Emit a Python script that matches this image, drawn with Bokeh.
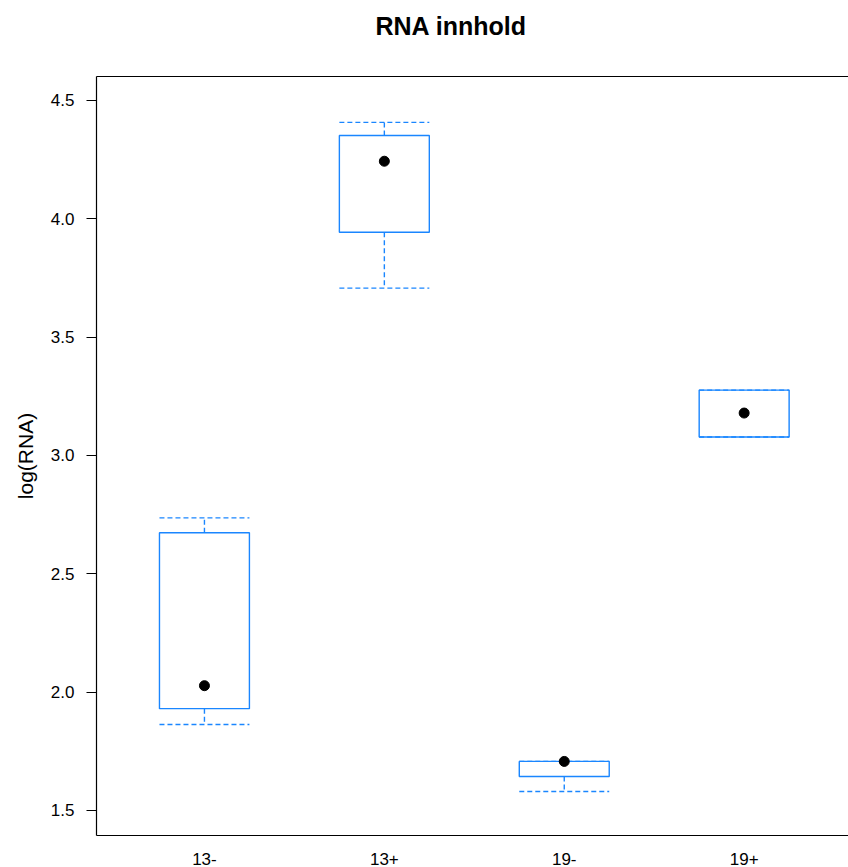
from bokeh.plotting import figure
from bokeh.models import LinearAxis, FixedTicker, Range1d, ColumnDataSource, NumeralTickFormatter
from bokeh.embed import file_html
from bokeh.resources import INLINE

# Box-and-whisker summary of log(RNA) per group
groups = ["13-", "13+", "19-", "19+"]
lower_whisker = [1.863, 3.707, 1.580, 3.078]
q1 = [1.930, 3.943, 1.643, 3.078]
median = [2.027, 4.243, 1.707, 3.179]
q3 = [2.673, 4.352, 1.707, 3.276]
upper_whisker = [2.736, 4.407, 1.707, 3.276]
y_ticks = [1.5, 2.0, 2.5, 3.0, 3.5, 4.0, 4.5]

BOX_COLOR = "#1a86ff"
FONT = "Liberation Sans"
HALF = 0.25  # half the box width, in category units

pos = list(range(1, len(groups) + 1))
src = ColumnDataSource(dict(
    x=pos,
    left=[v - HALF for v in pos],
    right=[v + HALF for v in pos],
    lw=lower_whisker, q1=q1, med=median, q3=q3, uw=upper_whisker,
))

p = figure(
    width=848, height=867,
    x_range=Range1d(0.4, 4.58), y_range=Range1d(1.394, 4.601),
    output_backend="svg", toolbar_location=None,
    min_border_left=96, min_border_right=0, min_border_top=76, min_border_bottom=31,
    x_axis_location=None, y_axis_location=None,
)
p.outline_line_color = None
p.xgrid.visible = False
p.ygrid.visible = False
p.background_fill_color = "white"
p.border_fill_color = "white"

# title
p.title.text = "RNA innhold"
p.title.align = "left"
p.title.offset = 279
p.title.text_font = FONT
p.title.text_font_size = "25px"
p.title.text_font_style = "bold"
p.title.text_color = "black"
p.title.standoff = 17

# left axis
yax = LinearAxis(ticker=FixedTicker(ticks=y_ticks), axis_label="log(RNA)",
                 formatter=NumeralTickFormatter(format="0.0"))
yax.axis_line_color = "black"
yax.axis_line_width = 1.2
yax.major_tick_out = 10
yax.major_tick_in = 0
yax.minor_tick_line_color = None
yax.major_label_standoff = 12
yax.major_label_text_font = FONT
yax.major_label_text_font_size = "17px"
yax.major_label_text_color = "black"
yax.axis_label_text_font = FONT
yax.axis_label_text_font_size = "21px"
yax.axis_label_text_font_style = "normal"
yax.axis_label_text_color = "black"
yax.axis_label_standoff = 11
p.add_layout(yax, "left")

# bottom axis with group names
xax = LinearAxis(ticker=FixedTicker(ticks=pos),
                 major_label_overrides={i: g for i, g in zip(pos, groups)})
xax.axis_line_color = "black"
xax.axis_line_width = 1.2
xax.major_tick_line_color = None
xax.minor_tick_line_color = None
xax.major_label_standoff = 11
xax.major_label_text_font = FONT
xax.major_label_text_font_size = "17px"
xax.major_label_text_color = "black"
p.add_layout(xax, "below")

# top frame line; its invisible tick leaves a gap below the title
tax = LinearAxis(ticker=FixedTicker(ticks=[pos[0]]),
                 major_label_overrides={pos[0]: ""})
tax.axis_line_color = "black"
tax.axis_line_width = 1.2
tax.major_tick_out = 28
tax.major_tick_in = 0
tax.major_tick_line_alpha = 0
tax.minor_tick_line_color = None
tax.major_label_standoff = 0
tax.major_label_text_font_size = "0px"
p.add_layout(tax, "above")

# whiskers and caps (dashed)
dash = dict(line_color=BOX_COLOR, line_width=1.4, line_dash="5 3")
p.segment(x0="x", y0="q3", x1="x", y1="uw", source=src, **dash)
p.segment(x0="x", y0="q1", x1="x", y1="lw", source=src, **dash)
p.segment(x0="left", y0="uw", x1="right", y1="uw", source=src, **dash)
p.segment(x0="left", y0="lw", x1="right", y1="lw", source=src, **dash)

# boxes
p.quad(left="left", right="right", bottom="q1", top="q3", source=src,
       fill_color=None, line_color=BOX_COLOR, line_width=1.4)

# medians
p.scatter(x="x", y="med", source=src, size=10, color="black")

open("out.html", "w").write(file_html(p, INLINE))
